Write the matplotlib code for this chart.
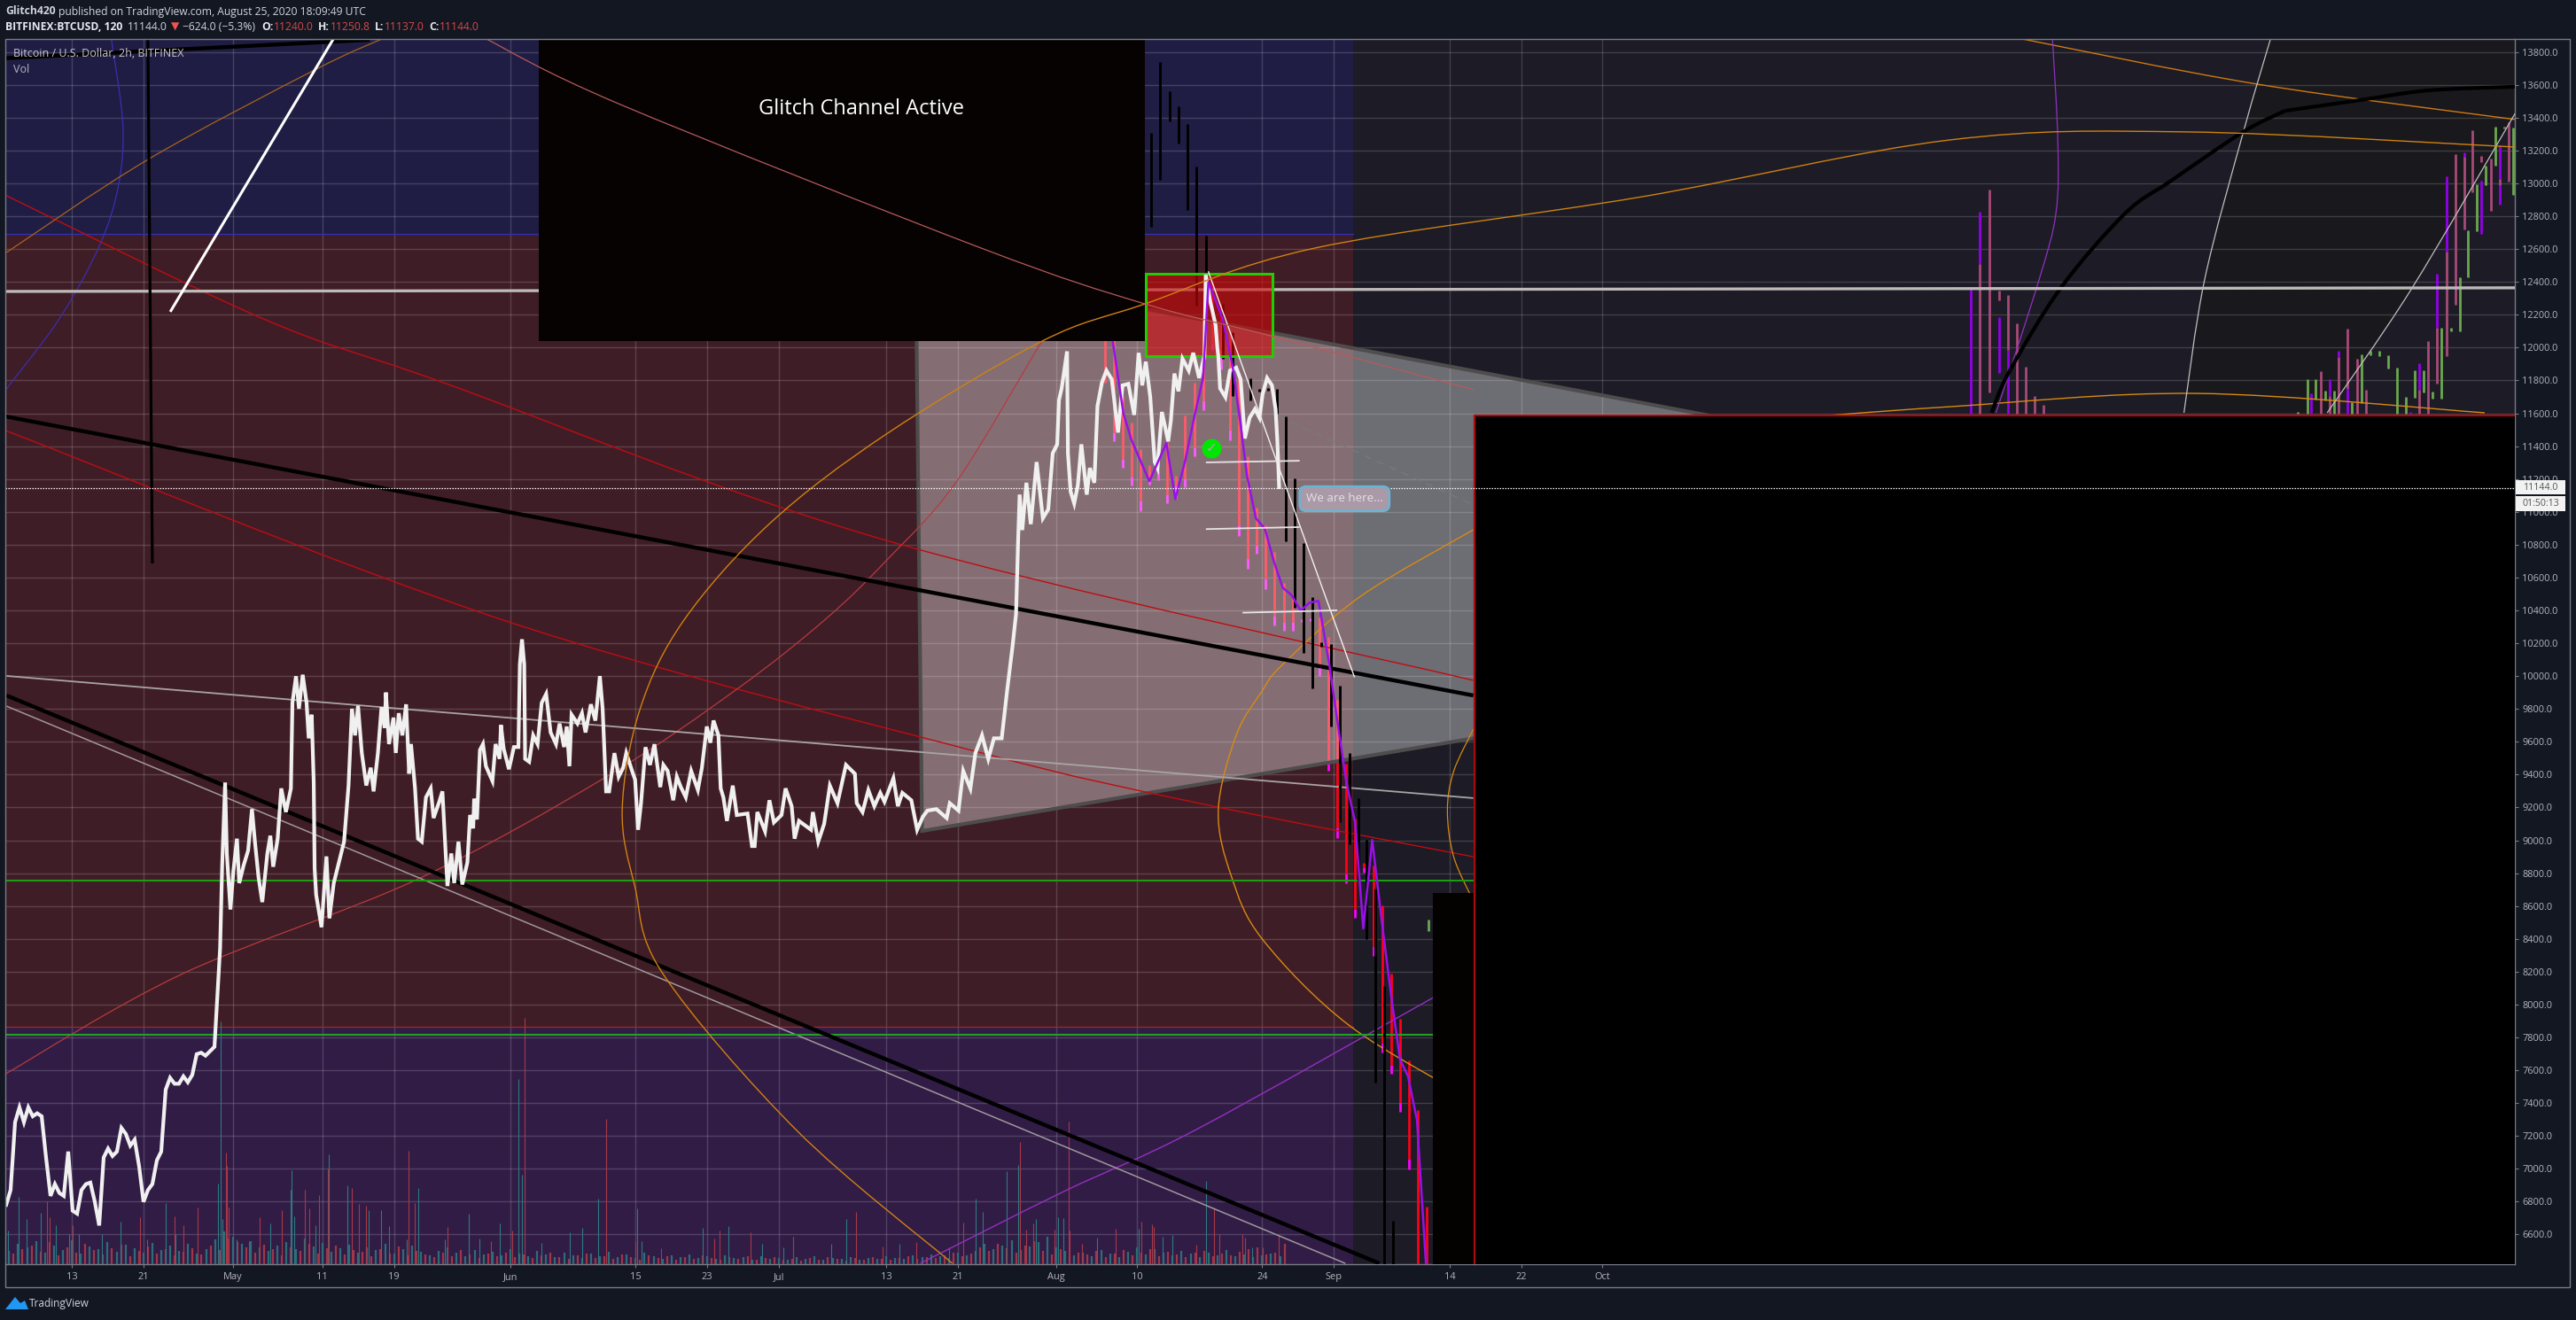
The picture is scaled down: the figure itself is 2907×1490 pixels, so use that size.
import numpy as np
import matplotlib
matplotlib.use('Agg')
import matplotlib.pyplot as plt
from matplotlib.patches import Polygon, Rectangle, PathPatch
from matplotlib.path import Path

W, H = 2907, 1490
plt.rcParams['font.family'] = ['Open Sans', 'DejaVu Sans']

# axis: days counted from 13 Apr, prices in USD
x_min, x_max = -7.43, 272.97
y_min, y_max = 6422, 13879
tick_days = [0, 8, 18, 28, 36, 49, 63, 71, 79, 91, 99, 110, 119, 133, 141, 154, 162, 171]
tick_labels = ['13', '21', 'May', '11', '19', 'Jun', '15', '23', 'Jul', '13', '21', 'Aug', '10', '24', 'Sep', '14', '22', 'Oct']
price_ticks = np.arange(6600, 13801, 200)

# white price line
white_d = [-7.33, -6.84, -6.34, -5.85, -5.35, -4.86, -4.36, -3.87, -3.37, -2.88, -2.38, -1.89, -1.39, -0.9, -0.4, 0.09,
           0.59, 1.08, 1.58, 2.07, 2.57, 3.06, 3.56, 4.05, 4.55, 5.04, 5.54, 6.03, 6.53, 7.02, 7.52, 8.01, 8.51, 9.0,
           9.5, 9.99, 10.49, 10.98, 11.48, 11.97, 12.47, 12.96, 13.46, 13.95, 14.45, 14.94, 15.44, 15.94,
           16.57, 16.8, 17.13, 17.32, 17.72, 18.05, 18.45, 18.71, 19.2, 19.7, 20.13, 20.46, 20.86, 21.28, 21.85, 22.18,
           22.5, 23.0, 23.4, 23.92, 24.48, 24.65, 25.05, 25.38, 25.8, 26.23, 26.47, 26.8, 27.03, 27.13, 27.3, 27.9,
           28.45, 28.78, 29.27, 29.93, 30.42, 30.92, 31.3, 31.65, 31.98, 32.4, 32.9, 33.4, 33.72, 34.2, 34.6, 34.95,
           35.1, 35.44, 35.94, 36.2, 36.53, 36.93, 37.35, 37.69, 37.9, 38.35, 38.68, 39.1, 39.57, 40.1, 40.42, 41.0,
           41.41, 41.65, 41.97, 42.4, 42.73, 43.2, 43.63, 44.2, 44.5, 44.85, 44.95, 45.27, 45.6, 45.94, 46.27, 47.0,
           47.35, 47.8, 47.95, 48.25, 48.84, 49.4, 49.9, 50.06, 50.3, 50.55, 50.65, 51.1, 51.55, 52.04, 52.5, 53.0,
           53.5, 54.1, 54.5, 55.0, 55.3, 55.6, 55.84, 56.5, 57.0, 57.4, 58.0, 58.5, 59.0, 59.31, 59.7, 60.04, 60.63,
           61.1, 61.6, 61.95, 62.6, 62.94, 63.27, 63.6, 64.1, 64.6, 65.1, 65.75, 66.1, 66.57, 67.2, 67.6, 68.05, 68.6,
           69.2, 69.95, 70.4, 70.95, 71.35, 71.7, 72.25, 72.5, 72.8, 73.2, 73.85, 74.3, 75.5, 76.0, 76.3, 76.6, 77.46,
           77.95, 78.45, 79.3, 79.75, 80.43, 80.76, 81.25, 82.6, 82.8, 83.4, 84.06, 84.7, 85.55, 86.5, 87.5, 87.7,
           88.35, 89.0, 89.67, 90.33, 90.8, 91.8, 92.3, 92.8, 93.8, 94.45, 95.1, 95.6, 96.6, 97.75, 98.1, 99.07, 99.6,
           100.4, 100.96, 101.7, 102.4, 103.03, 103.9, 104.5, 105.1, 105.5, 105.73, 105.9, 106.2, 106.66, 107.15,
           107.8, 108.5, 109.1, 109.6, 110.1, 110.3, 110.6, 111.2, 111.3, 111.6, 112.0, 112.4, 112.8, 113.4, 113.75,
           114.25, 114.6, 115.1, 115.6, 116.2, 116.9, 117.4, 118.05, 118.7, 119.2, 119.6, 120.0, 120.5, 121.0, 121.3,
           121.8, 122.5, 122.8, 123.2, 123.65, 124.1, 124.8, 125.3, 125.96, 126.55, 126.7, 127.2, 127.8, 128.0, 128.1,
           128.3, 128.9, 129.4, 130.1, 130.6, 131.07, 131.6, 132.2, 132.7, 133.05, 133.55, 134.1, 134.5, 134.7, 134.9]
white_p = [6781, 6871, 7284, 7374, 7284, 7374, 7320, 7338, 7320, 7069, 6835, 6907, 6853, 6835, 7105, 6745,
           6727, 6871, 6907, 6916, 6799, 6655, 7069, 7123, 7078, 7105, 7249, 7213, 7141, 7177, 7015, 6799, 6871, 6907,
           7051, 7105, 7482, 7554, 7518, 7518, 7563, 7527, 7572, 7698, 7707, 7689, 7716, 7743,
           8345, 8848, 9352, 8920, 8579, 8812, 9010, 8740, 8848, 8938, 9190, 8992, 8776, 8624, 8920, 9028,
           8839, 9010, 9316, 9172, 9316, 9837, 9999, 9801, 10008, 9837, 9621, 9765, 9352, 8830, 8668, 8471,
           8902, 8525, 8740, 8884, 8992, 9334, 9801, 9639, 9819, 9532, 9334, 9442, 9298, 9532, 9810, 9684,
           9900, 9586, 9747, 9532, 9774, 9639, 9828, 9406, 9586, 9316, 9010, 8992, 9262, 9316, 9136, 9226,
           9298, 9046, 8722, 8920, 8740, 8992, 8731, 8866, 9154, 9073, 9253, 9127, 9550, 9586, 9451, 9361,
           9586, 9496, 9702, 9559, 9433, 9568, 9568, 10071, 10224, 10071, 9496, 9478, 9639, 9586, 9837, 9891,
           9657, 9586, 9711, 9568, 9693, 9451, 9765, 9711, 9774, 9657, 9828, 9729, 10000, 9801, 9298, 9298, 9531,
           9387, 9441, 9531, 9423, 9369, 9064, 9226, 9567, 9459, 9585, 9324, 9459, 9423, 9244, 9387, 9324, 9262,
           9423, 9307, 9441, 9693, 9594, 9729, 9639, 9316, 9262, 9118, 9333, 9154, 9163, 8965, 8965, 9172, 9055,
           9244, 9109, 9154, 9316, 9208, 9010, 9118, 9064, 9172, 8992, 9100, 9333, 9226, 9459, 9405, 9226,
           9172, 9306, 9208, 9289, 9235, 9378, 9208, 9289, 9244, 9064, 9145, 9181, 9190, 9136, 9226, 9181, 9423,
           9315, 9531, 9639, 9495, 9621, 9621, 9909, 10177, 10377, 10817, 11105, 10889, 11177, 10925,
           11303, 10961, 11015, 11357, 11411, 11680, 11752, 11977, 11357, 11123, 11051, 11159, 11411, 11105, 11267,
           11177, 11644, 11788, 11860, 11806, 11483, 11770, 11779, 11590, 11968, 11770, 11914, 11698, 11303, 11267,
           11608, 11429, 11555, 11842, 11734, 11932, 11860, 11968, 11815, 11950, 12444, 12282, 12137, 11996, 11950,
           11752, 11698, 11860, 11878, 11806, 11447, 11573, 11626, 11573, 11716, 11815, 11770, 11626, 11429, 11150]

# purple line over the mirrored bars
purple_d = [116.3, 117.5, 118.4, 120.4, 122.3, 123.3, 124.4, 125.5, 126.4, 127.0, 128.6, 129.7, 130.6, 131.3, 132.3, 133.3,
            134.3, 135.3, 136.3, 137.3, 138.3, 139.3, 140.5, 141.5, 142.4, 143.4, 144.3, 145.3, 146.4, 147.4, 148.4,
            149.3, 150.3, 151.3]
purple_p = [12040, 11599, 11437, 11186, 11419, 11078, 11311, 11599, 11815, 12399, 12174, 11887, 11527, 11222, 10961, 10898,
            10700, 10538, 10493, 10398, 10448, 10457, 10071, 9689, 9358, 9104, 8463, 9002, 8493, 8060, 7666,
            7564, 7297, 6424]

# mirrored down bars: red body then magenta tail
pink_first_day = 115.4
pink_top = [12200, 12200, 11707, 11545, 11380, 11284, 11293, 11419, 11222, 11585, 11788, 11977, 12399, 12264, 12085, 11815,
            11338, 11024, 10916, 10754, 10565, 10502, 10344, 10350, 10358, 10236, 9855, 9465, 9134, 8862, 8849, 8603,
            8188, 7913, 7658, 7360, 6768]
pink_bot = [11788, 11482, 11320, 11213, 11069, 11195, 11248, 11105, 11158, 11204, 11392, 11680, 12031, 11950, 11500, 10916,
            10718, 10799, 10592, 10368, 10332, 10332, 10344, 10350, 10062, 9491, 9078, 8798, 8582, 8837, 8353, 7768,
            7633, 7404, 7060, 6400, 6400]
pink_tail = [11788, 11428, 11266, 11159, 11006, 11168, 11195, 11051, 11087, 11150, 11338, 11621, 11986, 11869, 11437, 10853,
             10655, 10745, 10529, 10308, 10278, 10278, 10332, 10335, 9999, 9422, 9015, 8740, 8526, 8806, 8295, 7709,
             7577, 7348, 6999, 6400, 6400]

# black bars
black_d = [120.6, 121.6, 122.7, 123.7, 124.7, 125.6, 126.7, 128.6, 129.7, 131.7, 132.7, 133.7, 134.7, 135.6, 136.6, 137.6,
           138.6, 139.6, 140.7, 141.7, 142.8, 143.8, 144.7, 145.6, 146.6, 147.6]
black_hi = [13308, 13739, 13561, 13469, 13361, 13103, 12682, 12264, 12094, 11815, 11747, 11752, 11747, 11581, 11204, 10808,
            10479, 10206, 10193, 9944, 9531, 9257, 9002, 8704, 8111, 6686]
black_lo = [12736, 13023, 13379, 13244, 12840, 12256, 12444, 11932, 11707, 11680, 11734, 11739, 11599, 10822, 10416, 10143,
            9927, 10179, 9694, 9111, 8977, 8753, 8399, 7526, 6400, 6400]

# bars at the upper right
purple_bar_d = [212.2, 213.2, 215.3, 216.3, 250.2, 252.3, 253.3, 254.3, 261.3, 262.3, 264.3, 265.3, 267.3, 269.2, 271.3, 271.3]
purple_bar_hi = [12368, 12827, 12187, 11984, 11722, 11809, 11980, 11749, 11608, 11903, 12449, 13044, 13187, 13016, 13230, 12987]
purple_bar_lo = [11600, 12507, 11845, 11600, 11600, 11707, 11941, 11600, 11600, 11743, 12123, 12586, 13164, 12694, 13025, 12873]
rose_bar_d = [213.2, 214.3, 215.3, 216.3, 217.3, 218.3, 219.3, 220.3, 251.3, 252.3, 253.3, 254.3, 255.3, 256.3, 262.3, 263.3,
              264.3, 265.3, 266.3, 267.3, 268.2, 269.2, 270.3, 271.3, 272.3]
rose_bar_hi = [12507, 12961, 12347, 12321, 12150, 11882, 11707, 11651, 11856, 11707, 11941, 12116, 11931, 11743, 11743, 12037,
               12123, 12586, 13178, 13164, 13324, 13168, 13151, 13025, 13370]
rose_bar_lo = [11600, 11728, 12289, 11984, 11600, 11600, 11600, 11600, 11600, 11600, 11600, 11749, 11600, 11600, 11600, 11600,
               11781, 11948, 12261, 12720, 12944, 13129, 12831, 12987, 13008]
green_bar_d = [248.7, 249.8, 250.7, 251.8, 252.8, 254.8, 255.8, 256.8, 257.8, 258.8, 259.8, 260.8, 261.8, 262.8, 263.8, 264.8,
               265.8, 266.8, 267.7, 268.7, 269.7, 270.8, 271.8, 272.8, 151.6]
green_bar_hi = [11610, 11807, 11807, 11739, 11739, 11668, 11958, 11980, 11980, 11954, 11877, 11700, 11862, 11862, 11732, 12118,
                12123, 12428, 12713, 12995, 13106, 13343, 13345, 13338, 8519]
green_bar_lo = [11600, 11600, 11685, 11679, 11600, 11600, 11664, 11956, 11950, 11873, 11600, 11600, 11696, 11728, 11690, 11690,
                12101, 12097, 12426, 12709, 12991, 13106, 13334, 12927, 8447]

# volume, in picture pixels of height
vol_up_d = [-7.17, -5.98, -5.07, -3.48, -1.77, -0.35, 0.78, 3.34, 5.44, 8.45, 10.5, 11.6, 16.63, 16.3, 16.8, 18.4, 19.8, 22.2,
            24.6, 24.8, 24.47, 27.2, 28.67, 30.83, 33.2, 34.6, 35.4, 37.4, 38.7, 41.7, 44.4, 45.5, 47.8, 49.9, 50.3, 52.5,
            55.6, 57.0, 58.8, 63.2, 63.7, 70.5, 73.4, 77.1, 79.5, 80.6, 84.8, 86.5, 92.5, 98.0, 101.0, 101.8, 104.5, 105.7,
            107.7, 110.2, 110.8, 114.6, 119.2, 121.9, 123.0, 126.7, 131.9]
vol_up = [37, 75, 50, 57, 43, 33, 33, 33, 47, 27, 68, 33, 273, 90, 50, 27, 25, 45,
          105, 53, 83, 43, 123, 88, 60, 60, 42, 27, 85, 27, 56, 28, 45, 208, 100, 23,
          35, 40, 73, 62, 25, 40, 42, 22, 18, 30, 22, 50, 22, 18, 73, 58, 104, 111,
          50, 52, 51, 29, 39, 30, 32, 93, 18]
vol_dn_d = [-2.8, -2.5, 0.05, 7.6, 11.5, 12.5, 14.1, 17.3, 17.2, 17.5, 21.0, 23.5, 26.0, 26.5, 27.65, 28.6, 31.3, 32.1, 32.9,
            37.6, 38.3, 42.0, 46.8, 49.2, 50.6, 59.7, 63.0, 65.8, 71.8, 72.4, 75.8, 80.6, 87.6, 90.6, 94.4, 99.6, 105.9,
            106.6, 107.4, 109.8, 111.4, 111.5, 112.9, 116.6, 119.5, 120.7, 120.9, 125.6, 127.6, 128.2, 130.8, 131.1, 133.1, 134.8]
vol_dn = [70, 52, 43, 52, 53, 43, 63, 110, 125, 63, 52, 60, 83, 62, 77, 107, 85, 67, 65,
          127, 68, 41, 25, 37, 277, 163, 25, 17, 28, 37, 35, 30, 58, 19, 24, 46, 137,
          38, 45, 38, 160, 37, 22, 39, 47, 44, 41, 21, 63, 33, 33, 29, 18, 31]
base_first_day = -7
vol_base_up = [14, 22, 18, 25, 12, 20, 15, 26, 11, 19, 16, 24, 13, 21, 17, 12, 23, 15, 20, 14,
               22, 11, 16, 27, 36, 30, 22, 25, 18, 14, 20, 24, 16, 28, 19, 23, 13, 17, 21, 12,
               18, 15, 22, 11, 16, 20, 13, 9, 14, 18, 12, 8, 15, 10, 13, 9, 16, 11, 8, 14,
               10, 7, 12, 9, 6, 11, 8, 13, 7, 10, 6, 12, 8, 5, 9, 7, 10, 6, 8, 5,
               9, 6, 7, 4, 8, 5, 6, 4, 7, 5, 8, 4, 6, 5, 7, 4, 6, 5, 8, 6,
               5, 9, 7, 10, 8, 6, 12, 9, 14, 22, 16, 20, 26, 15, 19, 24, 30, 18, 14, 9,
               12, 8, 15, 11, 7, 13, 18, 10, 16, 12, 9, 14, 11, 7, 12, 9, 15, 8, 10, 7,
               9, 11, 8]
vol_base_dn = [11, 16, 20, 13, 24, 9, 18, 12, 22, 15, 10, 17, 21, 8, 14, 19, 11, 16, 9, 13,
               17, 10, 20, 15, 28, 24, 18, 12, 21, 16, 9, 18, 14, 22, 11, 17, 20, 10, 15, 13,
               8, 16, 11, 19, 9, 14, 10, 7, 12, 8, 15, 10, 6, 11, 8, 12, 7, 10, 6, 9,
               12, 7, 5, 9, 11, 6, 8, 5, 10, 7, 4, 9, 6, 8, 4, 7, 5, 9, 6, 4,
               7, 5, 8, 4, 6, 7, 4, 5, 3, 6, 4, 7, 5, 3, 6, 4, 7, 5, 4, 6,
               8, 5, 7, 6, 9, 12, 8, 11, 18, 14, 22, 17, 12, 20, 25, 14, 10, 16, 8, 12,
               10, 14, 7, 11, 15, 9, 12, 16, 8, 13, 10, 7, 12, 14, 8, 11, 9, 13, 16, 18,
               10, 12, 22]

# zones and boxes
zone_end = 143.2
blue_low = 12693
red_low = 7865
green_upper = 8755
green_lower = 7819
last_price = 11144

# drawn lines, days then prices
black_top_d, black_top_p = [-7.43, 33.3], [13762, 13874]
black_vert_d, black_vert_p = [8.5, 9.0], [13880, 10686]
white_diag_d, white_diag_p = [11.0, 29.2], [12218, 13877]
level_d, level_p = [-7.43, 272.97], [12342, 12364]
black_a_d, black_a_p = [-7.43, 156.6], [11581, 9882]
black_b_d, black_b_p = [-7.3, 146.1], [9882, 6424]
gray_b_d, gray_b_p = [-7.3, 142.3], [9817, 6424]
gray_c_d, gray_c_p = [-7.3, 156.6], [10001, 9257]
red_a_d = [-7.3, 21.4, 41.5, 91.0, 156.6]
red_a_p = [12925, 12175, 11787, 10826, 9974]
red_b_d = [-7.4, 48.2, 100.9, 125.6, 156.6]
red_b_p = [11495, 10341, 9543, 9230, 8900]
salmon_d = [46.1, 61.3, 101.6, 119.9, 134.3, 156.7]
salmon_p = [13885, 13480, 12606, 12266, 12067, 11743]
orange_big_d = [98.4, 81.1, 66.1, 62.9, 61.5, 63.5, 68.4, 78.0, 91.0, 108.4, 119.9, 138.9, 175.5, 209.8, 236.5, 273.0]
orange_big_p = [6424, 7228, 8183, 8722, 9192, 9801, 10341, 10930, 11473, 12039, 12266, 12606, 12919, 13264, 13313, 13221]
orange_mid_d = [156.6, 142.8, 133.1, 129.6, 128.1, 130.1, 133.0, 135.3, 144.0, 156.6]
orange_mid_p = [7417, 7870, 8393, 8775, 9181, 9640, 9909, 10071, 10486, 10891]
orange_upper_d, orange_upper_p = [190.0, 209.8, 237.5, 269.6], [11560, 11640, 11721, 11603]
orange_small_d = [156.6, 154.4, 153.7, 154.4, 156.6]
orange_small_p = [9677, 9420, 9181, 8900, 8630]
orange_top_d, orange_top_p = [217.4, 244.2, 273.0], [13885, 13604, 13389]
orange_left_d, orange_left_p = [-7.3, 8.5, 27.3, 34.9], [12579, 13145, 13695, 13885]
blue_arc_d = [4.4, 5.7, 5.2, 3.1, -1.4, -7.4]
blue_arc_p = [13885, 13361, 12984, 12622, 12175, 11743]
rust_d = [-7.4, 12.2, 38.5, 59.7, 74.3, 84.1, 91.0, 98.9, 108.4, 109.8]
rust_p = [7578, 8183, 8760, 9386, 9920, 10341, 10703, 11188, 12039, 12120]
purple_low_d, purple_low_p = [94.8, 110.8, 125.6, 152.1], [6424, 6861, 7238, 8042]
purple_arc_d = [221.3, 221.9, 221.7, 219.8, 215.0]
purple_arc_p = [13885, 13264, 12821, 12412, 11603]
white_arc_d = [245.7, 242.6, 238.3, 236.0]
white_arc_p = [13885, 13306, 12412, 11603]
white_right_d = [252.0, 261.3, 273.0]
white_right_p = [11603, 12347, 13426]
black_curve_d = [214.5, 216.5, 222.3, 229.4, 234.4, 242.6, 247.3]
black_curve_p = [11603, 11856, 12368, 12816, 13010, 13313, 13442]
black_flat_d = [247.3, 255.7, 263.3, 273.0]
black_flat_p = [13442, 13507, 13566, 13588]
fall_d, fall_p = [127.0, 143.3], [12461, 9996]
steps = [([126.8, 137.1], [11301, 11311]), ([126.8, 137.1], [10895, 10907]), ([130.9, 141.3], [10386, 10400])]
dash_d, dash_p = [134.8, 156.6], [11581, 11042]
tri_d = [94.3, 95.0, 184.0, 182.9]
tri_p = [12500, 9057, 9872, 11587]


fig = plt.figure(figsize=(W / 100, H / 100), dpi=100, facecolor='#131722')
ax = fig.add_axes([6 / W, 1 - 1426.5 / H, (2838 - 6) / W, (1426.5 - 44) / H], facecolor='#1c1b26')
ax.set_xlim(x_min, x_max)
ax.set_ylim(y_min, y_max)


def span(d0, d1, p0, p1, color, z, **kw):
    ax.fill_between([d0, d1], p0, p1, color=color, zorder=z, linewidth=0, **kw)


def curve(d, p, color, lw, z=7):
    # bezier path through the read points so the arcs bend instead of kinking
    pts = np.column_stack([d, p]).astype(float)
    verts = [pts[0]]
    codes = [Path.MOVETO]
    for i in range(len(pts) - 1):
        prev = pts[max(i - 1, 0)]
        nxt = pts[min(i + 2, len(pts) - 1)]
        verts += [pts[i] + (pts[i + 1] - prev) / 6, pts[i + 1] - (nxt - pts[i]) / 6, pts[i + 1]]
        codes += [Path.CURVE4] * 3
    ax.add_patch(PathPatch(Path(verts, codes), fill=False, edgecolor=color, lw=lw, zorder=z, capstyle='butt'))


# background zones
span(x_min, zone_end, blue_low, y_max, '#201d44', 1)
span(x_min, zone_end, red_low, blue_low, '#3f1d26', 1)
span(x_min, zone_end, y_min, red_low, '#311c46', 1)
ax.fill(white_arc_d + white_right_d + [273], white_arc_p + white_right_p + [13885],
        color='#19181d', zorder=1, linewidth=0)
ax.plot([x_min, zone_end], [blue_low, blue_low], color='#3030b8', lw=0.9, zorder=3)
ax.plot([x_min, zone_end], [red_low, red_low], color='#a02a30', lw=0.9, zorder=3)

# grid
for p in price_ticks:
    ax.plot([x_min, x_max], [p, p], color='white', alpha=0.16, lw=1.0, zorder=2)
for d in tick_days:
    ax.plot([d, d], [y_min, y_max], color='white', alpha=0.16, lw=1.0, zorder=2)

# volume, drawn up from the bottom of the panel
vol_scale = 5.394
base_x = base_first_day + np.arange(len(vol_base_up))
ax.vlines(base_x, y_min, y_min + np.array(vol_base_up) * vol_scale, color='#2c6e78', lw=1.6, zorder=3)
ax.vlines(base_x + 0.5, y_min, y_min + np.array(vol_base_dn) * vol_scale, color='#a03648', lw=1.6, zorder=3)
ax.vlines(vol_up_d, y_min, y_min + np.array(vol_up) * vol_scale, color='#2c7a80', lw=0.8, zorder=3)
ax.vlines(vol_dn_d, y_min, y_min + np.array(vol_dn) * vol_scale, color='#a83848', lw=0.8, zorder=3)

# mirrored bars, under the triangle so they get washed out inside it
pink_x = pink_first_day + np.arange(len(pink_top))
ax.vlines(pink_x, pink_tail, pink_bot, color='#ff00ff', lw=2.0, zorder=4)
ax.vlines(pink_x, pink_bot, pink_top, color='#ff0018', lw=2.0, zorder=4)

# triangle
ax.add_patch(Polygon(list(zip(tri_d, tri_p)), closed=True, facecolor=(1, 1, 1, 0.36), edgecolor='#4e4c4c',
                     lw=3.0, zorder=5))

# right bars
ax.vlines(purple_bar_d, purple_bar_lo, purple_bar_hi, color='#9400e8', lw=2.0, zorder=6)
ax.vlines(rose_bar_d, rose_bar_lo, rose_bar_hi, color='#a84a78', lw=2.0, zorder=6)
ax.vlines(green_bar_d, green_bar_lo, green_bar_hi, color='#6aa84f', lw=2.0, zorder=6)

# curved lines
curve(red_a_d, red_a_p, '#c00c10', 1.0)
curve(red_b_d, red_b_p, '#c00c10', 1.0)
curve(rust_d, rust_p, '#b83a3e', 0.9)
curve(blue_arc_d, blue_arc_p, '#3a2eb0', 0.9)
curve(orange_mid_d, orange_mid_p, '#d98a10', 1.0)
curve(orange_upper_d, orange_upper_p, '#d98a10', 1.0)
curve(orange_small_d, orange_small_p, '#d98a10', 0.9)
curve(orange_top_d, orange_top_p, '#d07a10', 1.0)
curve(orange_left_d, orange_left_p, '#a8641c', 0.9)
curve(purple_low_d, purple_low_p, '#9430c0', 1.0)
curve(purple_arc_d, purple_arc_p, '#9430c0', 0.9)
curve(white_arc_d, white_arc_p, '#c0c0c0', 0.9)
curve(white_right_d, white_right_p, '#c0c0c0', 0.9)
curve(black_curve_d, black_curve_p, 'black', 3.0)
curve(black_flat_d, black_flat_p, 'black', 3.0)

# straight lines
for d, p, c, lw in [
    (gray_b_d, gray_b_p, '#a0989c', 1.1),
    (gray_c_d, gray_c_p, '#a8a4a6', 1.3),
    (level_d, level_p, '#bdbab8', 2.4),
    ([x_min, 156.6], [green_upper, green_upper], '#1c9c10', 1.5),
    ([x_min, 152.1], [green_lower, green_lower], '#23a023', 1.5),
    (black_a_d, black_a_p, 'black', 3.2),
    (black_b_d, black_b_p, 'black', 3.2),
    (black_top_d, black_top_p, 'black', 3.2),
    (black_vert_d, black_vert_p, 'black', 2.3),
    (white_diag_d, white_diag_p, 'white', 2.2),
]:
    ax.plot(d, p, color=c, lw=lw, zorder=7, solid_capstyle='butt')
ax.plot(dash_d, dash_p, color='#777a7c', lw=1.0, ls=(0, (6, 5)), zorder=7)

ax.vlines(black_d, black_lo, black_hi, color='black', lw=2.1, zorder=8)

# red target box
ax.add_patch(Rectangle((120.0, 11948), 14.2, 502, facecolor=(0.82, 0.03, 0.03, 0.6), edgecolor='#22cc00',
                       lw=2.2, zorder=9))

ax.plot(white_d, white_p, color='#f0f0f0', lw=3.0, zorder=10, solid_joinstyle='miter')
ax.plot(purple_d, purple_p, color='#9a10e8', lw=1.8, zorder=11)
ax.plot(fall_d, fall_p, color='#f4f0f0', lw=1.0, zorder=11)
for d, p in steps:
    ax.plot(d, p, color='#e8e4e6', lw=1.3, zorder=11)

# black cover boxes
span(52.2, 119.9, 12040, y_max, '#060202', 12)
span(152.1, 156.7, y_min, 8679, '#030200', 12)
span(156.7, x_max, y_min, 11587, '#000000', 12)
ax.plot([156.7, 156.7, x_max], [y_min, 11587, 11587], color='#a80a10', lw=1.6, zorder=13)

curve(orange_big_d, orange_big_p, '#d08210', 1.0, z=13)
curve(salmon_d, salmon_p, '#b85a5a', 0.9, z=13)
ax.plot([x_min, x_max], [last_price, last_price], color='white', lw=0.9, ls=(0, (1.2, 1.2)), zorder=14)

ax.text(88.2, 13455, 'Glitch Channel Active', color='white', fontsize=17, ha='center', va='center', zorder=15)
ax.text(142.2, 11080, 'We are here...', color='#e6dee6', fontsize=9.6, ha='center', va='center', zorder=15,
        bbox=dict(boxstyle='round,pad=0.55', fc='#aa9aa8', ec='#6ab4d4', lw=1.8))
ax.scatter([127.3], [11387], s=250, color='#00e600', zorder=15, linewidths=0)
ax.text(127.3, 11387, '\u2713', family='DejaVu Sans', color='#a8a8a8', fontsize=11, fontweight='bold',
        ha='center', va='center', zorder=16)

# axes
ax.yaxis.tick_right()
ax.set_yticks(price_ticks)
ax.set_yticklabels([f'{v:.1f}' for v in price_ticks])
ax.set_xticks(tick_days)
ax.set_xticklabels(tick_labels)
ax.tick_params(axis='y', colors='#b2b5be', labelsize=7.9, length=3, width=0.8, color='#787b86', pad=3)
ax.tick_params(axis='x', colors='#b2b5be', labelsize=7.9, length=3, width=0.8, color='#787b86', pad=4)
for s in ax.spines.values():
    s.set_color('#787b86')
    s.set_linewidth(1.0)
ax.spines['top'].set_visible(False)
ax.spines['left'].set_visible(False)


def fx(px):
    return px / W


def fy(py):
    return 1 - py / H


# outer frame
fig.add_artist(Rectangle((fx(6), fy(1453)), fx(2894), (1453 - 43.5) / H, fill=False, edgecolor='#787b86',
                         lw=1.0, transform=fig.transFigure))

# header
small = 8.7
fig.text(fx(6), fy(13), 'Glitch420', color='#d1d4dc', fontsize=small, fontweight='bold', va='center')
fig.text(fx(66), fy(13), 'published on TradingView.com, August 25, 2020 18:09:49 UTC', color='#d1d4dc',
         fontsize=small, va='center')
header_y = fy(30)
for px, txt, col, bold in [
    (6, 'BITFINEX:BTCUSD, 120', '#e8eaf0', True),
    (144, '11144.0', '#d1d4dc', False),
    (193, '\u25bc', '#ef5350', False),
    (206, '\u2212624.0 (\u22125.3%)', '#d1d4dc', False),
    (295.5, 'O:', '#e8eaf0', True),
    (309, '11240.0', '#d84848', False),
    (359, 'H:', '#e8eaf0', True),
    (373, '11250.8', '#d84848', False),
    (423, 'L:', '#e8eaf0', True),
    (434, '11137.0', '#d84848', False),
    (484, 'C:', '#e8eaf0', True),
    (496, '11144.0', '#d84848', False),
]:
    fig.text(fx(px), header_y, txt, color=col, fontsize=small, fontweight='bold' if bold else 'normal', va='center')

fig.text(fx(15), fy(61), 'Bitcoin / U.S. Dollar, 2h, BITFINEX', color='#c8c8cc', fontsize=9.0, va='center', zorder=20)
fig.text(fx(15), fy(78), 'Vol', color='#b2b5be', fontsize=9.0, va='center', zorder=20)

# price tags
for y0, y1, txt in [(542.5, 558, '11144.0'), (560, 576.5, '01:50:13')]:
    fig.add_artist(Rectangle((fx(2839), fy(y1)), fx(56), (y1 - y0) / H, facecolor='#f2f2f2', edgecolor='none',
                             transform=fig.transFigure, zorder=20))
    fig.text(fx(2867), fy((y0 + y1) / 2), txt, color='#555555', fontsize=7.6, ha='center', va='center', zorder=21)

# footer logo
logo = [(6, 1478), (17, 1464), (23, 1471), (28, 1468), (32, 1478)]
fig.add_artist(Polygon([(fx(a), fy(b)) for a, b in logo], closed=True, facecolor='#2196f3', edgecolor='none',
                       transform=fig.transFigure))
fig.text(fx(33), fy(1472), 'TradingView', color='#d1d4dc', fontsize=8.6, va='center')

fig.savefig('out.png', dpi=100, facecolor=fig.get_facecolor())
